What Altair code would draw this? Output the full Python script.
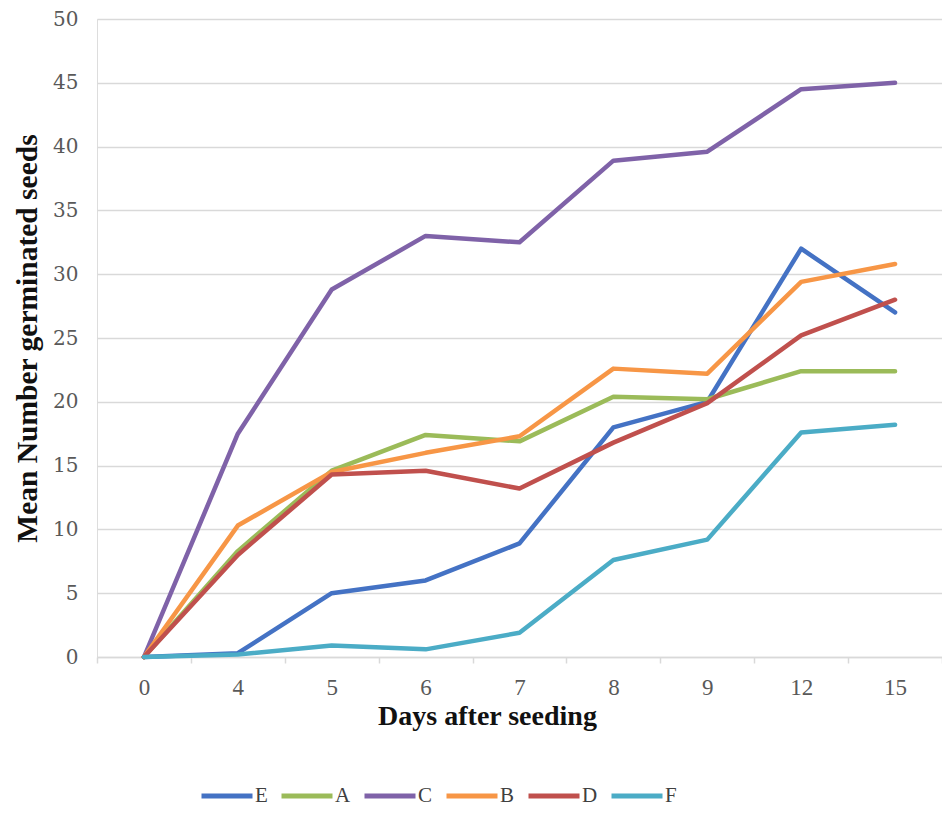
import altair as alt
import pandas as pd

days = ["0", "4", "5", "6", "7", "8", "9", "12", "15"]
series = ["E", "A", "C", "B", "D", "F"]
colors = ["#4472C4", "#9BBB59", "#7F62A8", "#F79646", "#C0504D", "#4BACC6"]

E = [0, 0.3, 5.0, 6.0, 8.9, 18.0, 20.0, 32.0, 27.0]
A = [0, 8.3, 14.6, 17.4, 16.9, 20.4, 20.2, 22.4, 22.4]
C = [0, 17.5, 28.8, 33.0, 32.5, 38.9, 39.6, 44.5, 45.0]
B = [0, 10.3, 14.5, 16.0, 17.3, 22.6, 22.2, 29.4, 30.8]
D = [0, 8.0, 14.3, 14.6, 13.2, 16.8, 19.9, 25.2, 28.0]
F = [0, 0.2, 0.9, 0.6, 1.9, 7.6, 9.2, 17.6, 18.2]

values = {"E": E, "A": A, "C": C, "B": B, "D": D, "F": F}
rows = []
for s in series:
    for i, (d, v) in enumerate(zip(days, values[s])):
        rows.append({"day": d, "idx": i, "value": v, "series": s})
df = pd.DataFrame(rows)

chart = alt.Chart(df).mark_line(strokeWidth=4.5, strokeJoin="round", strokeCap="round").encode(
    x=alt.X("day:O", sort=days, bandPosition=0.5,
            scale=alt.Scale(type="band", paddingInner=0, paddingOuter=0),
            axis=alt.Axis(title="Days after seeding", labelAngle=0,
                          labelFont="Liberation Serif", labelFontSize=23, labelColor="#595959",
                          labelPadding=13, tickSize=6, tickColor="#d9d9d9", tickWidth=1.5,
                          tickBand="extent", domainColor="#d9d9d9", domainWidth=1.5,
                          grid=False,
                          titleFont="Liberation Serif", titleFontWeight="bold", titleFontSize=28,
                          titleColor="#111111", titleX=390, titleY=67,
                          titleBaseline="alphabetic", titleAlign="center")),
    y=alt.Y("value:Q", scale=alt.Scale(domain=[0, 50], nice=False),
            axis=alt.Axis(title="Mean Number germinated seeds", values=list(range(0, 51, 5)),
                          labelFont="DejaVu Serif", labelFontSize=20, labelColor="#595959",
                          labelPadding=19, ticks=False, domain=False,
                          gridColor="#d9d9d9", gridWidth=1.5,
                          titleFont="Liberation Serif", titleFontWeight="bold", titleFontSize=29.5,
                          titleColor="#111111", titleX=-70, titleY=319, titleAngle=-90,
                          titleAlign="center", titleBaseline="middle")),
    color=alt.Color("series:N", sort=series,
                    scale=alt.Scale(domain=series, range=colors),
                    legend=alt.Legend(title=None, orient="none", direction="horizontal",
                                      legendX=102, legendY=749, padding=0,
                                      symbolType="stroke", symbolSize=2601, symbolStrokeWidth=5,
                                      labelFont="Liberation Serif", labelFontSize=21,
                                      labelColor="#404040", labelOffset=0, columnPadding=3)),
    order=alt.Order("idx:Q"),
).properties(
    width=845, height=638,
    autosize=alt.AutoSizeParams(type="none"),
    padding={"left": 89, "top": 11, "right": 0, "bottom": 150},
).configure_view(stroke=None).configure(background="white")

chart.save("out.html", embed_options={"renderer": "svg", "actions": False})
